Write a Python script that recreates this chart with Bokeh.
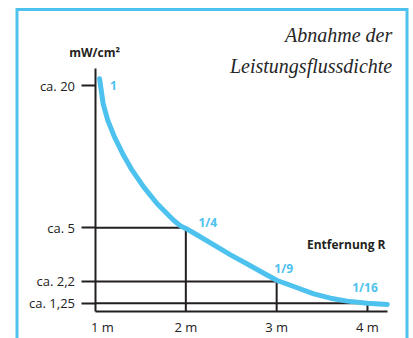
from bokeh.plotting import figure
from bokeh.models import LinearAxis, FixedTicker, Range1d, ColumnDataSource
from bokeh.core.properties import value
from bokeh.embed import file_html
from bokeh.resources import INLINE

# ---- data ----
distance_m = [1, 2, 3, 4]
x_tick_labels = ["\u2007\u20071 m", "2 m", "3 m", "4 m"]
# levels of the schematic y scale (fraction of the height of the first point)
level = [1.0, 0.372, 0.135, 0.039]
y_tick_labels = ["ca. 20", "ca. 5", "ca. 2,2", "ca. 1,25"]
fraction_labels = ["1", "1/4", "1/9", "1/16"]

curve_x = [1.050, 1.090, 1.141, 1.215, 1.306, 1.410, 1.537, 1.685, 1.868, 1.941,
           2.000, 2.125, 2.308, 2.492, 2.676, 2.858, 3.006, 3.226, 3.409, 3.593,
           3.777, 3.997, 4.217]
curve_y = [1.030, 0.919, 0.846, 0.772, 0.698, 0.625, 0.551, 0.478, 0.404, 0.380,
           0.369, 0.340, 0.296, 0.252, 0.212, 0.171, 0.139, 0.107, 0.080, 0.061,
           0.048, 0.039, 0.033]

BLUE = "#4dc2ee"
INK = "#231f20"
SANS = "Open Sans"

p = figure(width=413, height=338, output_backend="svg", toolbar_location=None,
           x_axis_location=None, y_axis_location=None, min_border=0,
           x_range=Range1d(-0.0404, 4.5065), y_range=Range1d(-0.1170, 1.3753))
p.title.visible = False
p.outline_line_color = None
p.xgrid.visible = False
p.ygrid.visible = False
p.background_fill_color = "white"
p.border_fill_color = "white"

# frame of the panel (open at the bottom)
p.line(x=[0.1413, 0.1413, 4.435, 4.435], y=[-0.3, 1.3355, 1.3355, -0.3],
       line_color=BLUE, line_width=3, line_join="miter")

# reference lines from the axis to the curve points
src = ColumnDataSource(dict(x=distance_m[1:], y=level[1:], x0=[1] * 3, y0=[0] * 3))
p.segment(x0="x0", y0="y", x1="x", y1="y", source=src, line_color=INK, line_width=2)
p.segment(x0="x", y0="y0", x1="x", y1="y", source=src, line_color=INK, line_width=2)

# axes placed at fixed locations (x = 1 m and level 0)
yaxis = LinearAxis(fixed_location=1.0, bounds=(0, 1.075),
                   ticker=FixedTicker(ticks=level),
                   major_label_overrides={v: t for v, t in zip(level, y_tick_labels)})
yaxis.major_tick_out = 14
yaxis.major_tick_in = 0
yaxis.minor_tick_line_color = None
yaxis.major_label_standoff = 6
yaxis.axis_line_width = 2
yaxis.axis_line_color = INK
yaxis.major_tick_line_width = 2
yaxis.major_tick_line_color = INK
yaxis.major_label_text_font = SANS
yaxis.major_label_text_font_size = "13px"
yaxis.major_label_text_color = "#222222"
p.add_layout(yaxis, "left")

xaxis = LinearAxis(fixed_location=0.0, bounds=(1, 4.22),
                   ticker=FixedTicker(ticks=distance_m),
                   major_label_overrides={v: t for v, t in zip(distance_m, x_tick_labels)})
xaxis.major_tick_out = 0
xaxis.major_tick_in = 0
xaxis.minor_tick_line_color = None
xaxis.major_label_standoff = 6
xaxis.axis_line_width = 2
xaxis.axis_line_color = INK
xaxis.major_label_text_font = SANS
xaxis.major_label_text_font_size = "13px"
xaxis.major_label_text_color = "#222222"
p.add_layout(xaxis, "below")

# the decay curve
p.line(curve_x, curve_y, line_color=BLUE, line_width=5, line_cap="round", line_join="round")

# fraction labels next to the points
lab = ColumnDataSource(dict(x=distance_m, y=level, t=fraction_labels,
                            dx=[18.5, 22, 7, -2.5], dy=[0, -5, -12.5, -15.7]))
p.text(x="x", y="y", text="t", x_offset="dx", y_offset="dy", source=lab,
       text_color=BLUE, text_font=value(SANS), text_font_style="bold",
       text_font_size="12px", text_align="center", text_baseline="middle")

# axis titles
p.text(x=[0.995], y=[1.146], text=["mW/cm²"], text_font=value(SANS), text_font_style="bold",
       text_font_size="12px", text_color=INK, text_align="center", text_baseline="middle")
p.text(x=[4.198], y=[0.298], text=["Entfernung R"], text_font=value(SANS), text_font_style="bold",
       text_font_size="12px", text_color=INK, text_align="right", text_baseline="middle")

# chart title
p.text(x=[4.272, 4.272], y=[1.221, 1.088], text=["Abnahme der", "Leistungsflussdichte"],
       text_font=value("Liberation Serif"), text_font_style="italic", text_font_size="20px",
       text_color="#262626", text_align="right", text_baseline="middle")

open("out.html", "w").write(file_html(p, INLINE))
